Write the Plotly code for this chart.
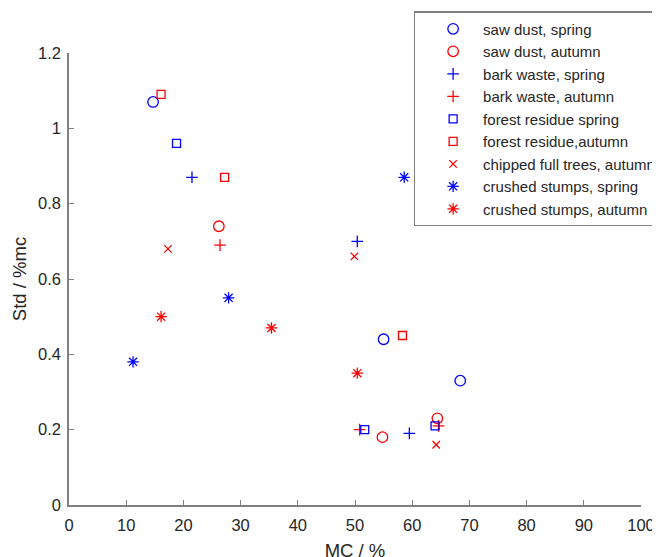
import plotly.graph_objects as go

# ---- data (MC %, Std %mc) ----
saw_spring_x = [14.7, 55.0, 68.4]
saw_spring_y = [1.07, 0.44, 0.33]
saw_autumn_x = [26.2, 54.8, 64.4]
saw_autumn_y = [0.74, 0.18, 0.23]
bark_spring_x = [21.5, 50.4, 59.5]
bark_spring_y = [0.87, 0.70, 0.19]
bark_autumn_x = [26.4, 50.8, 64.6]
bark_autumn_y = [0.69, 0.20, 0.21]
forest_spring_x = [18.8, 51.7, 64.0]
forest_spring_y = [0.96, 0.20, 0.21]
forest_autumn_x = [16.1, 27.2, 58.3]
forest_autumn_y = [1.09, 0.87, 0.45]
chipped_autumn_x = [17.3, 49.9, 64.2]
chipped_autumn_y = [0.68, 0.66, 0.16]
stumps_spring_x = [11.2, 27.9, 58.6]
stumps_spring_y = [0.38, 0.55, 0.87]
stumps_autumn_x = [16.1, 35.4, 50.4]
stumps_autumn_y = [0.50, 0.47, 0.35]

x_ticks = [0, 10, 20, 30, 40, 50, 60, 70, 80, 90, 100]
y_ticks = [0, 0.2, 0.4, 0.6, 0.8, 1.0, 1.2]
y_tick_labels = ["0", "0.2", "0.4", "0.6", "0.8", "1", "1.2"]

BLUE = "#0000ff"
RED = "#ff0000"
FONT = "Liberation Sans, Arial, sans-serif"
TXT = "#262626"
AX = "#808080"

series = [
    ("saw dust, spring", saw_spring_x, saw_spring_y, BLUE, "circle-open", 10.5),
    ("saw dust, autumn", saw_autumn_x, saw_autumn_y, RED, "circle-open", 10.5),
    ("bark waste, spring", bark_spring_x, bark_spring_y, BLUE, "cross-thin-open", 8.3),
    ("bark waste, autumn", bark_autumn_x, bark_autumn_y, RED, "cross-thin-open", 8.3),
    ("forest residue spring", forest_spring_x, forest_spring_y, BLUE, "square-open", 8),
    ("forest residue,autumn", forest_autumn_x, forest_autumn_y, RED, "square-open", 8),
    ("chipped full trees, autumn", chipped_autumn_x, chipped_autumn_y, RED, "x-thin-open", 7.5),
    ("crushed stumps, spring", stumps_spring_x, stumps_spring_y, BLUE, "asterisk-open", 9.5),
    ("crushed stumps, autumn", stumps_autumn_x, stumps_autumn_y, RED, "asterisk-open", 9.5),
]

fig = go.Figure()
for name, xs, ys, col, sym, sz in series:
    fig.add_trace(go.Scatter(
        x=xs, y=ys, mode="markers", name=name,
        marker=dict(symbol=sym, size=sz, color=col, line=dict(color=col, width=1.3)),
    ))

axis_common = dict(
    showline=True, linecolor=AX, linewidth=1.5,
    ticks="inside", ticklen=5, tickcolor=AX, tickwidth=1.2,
    showgrid=False, zeroline=False, mirror=False,
    tickfont=dict(family=FONT, size=16.5, color=TXT),
)

fig.update_layout(
    width=660, height=557,
    paper_bgcolor="white", plot_bgcolor="white",
    margin=dict(l=61, r=27, t=45, b=60, autoexpand=False),
    showlegend=True,
    legend=dict(
        x=0.603, y=1.092, xanchor="left", yanchor="top",
        bgcolor="white", bordercolor=AX, borderwidth=1.2,
        font=dict(family=FONT, size=15, color=TXT),
        itemwidth=50, tracegroupgap=0, indentation=8,
        entrywidth=250, entrywidthmode="pixels",
    ),
    xaxis=dict(range=[0, 100], tickvals=x_ticks, ticklabelstandoff=4,
               title=dict(text="MC / %", font=dict(family=FONT, size=18.5, color=TXT), standoff=12),
               **axis_common),
    yaxis=dict(range=[0, 1.2], tickvals=y_ticks, ticktext=y_tick_labels, ticklabelstandoff=3,
               title=dict(text="Std / %mc", font=dict(family=FONT, size=18.5, color=TXT), standoff=7),
               **axis_common),
)

fig.write_html("out.html")
